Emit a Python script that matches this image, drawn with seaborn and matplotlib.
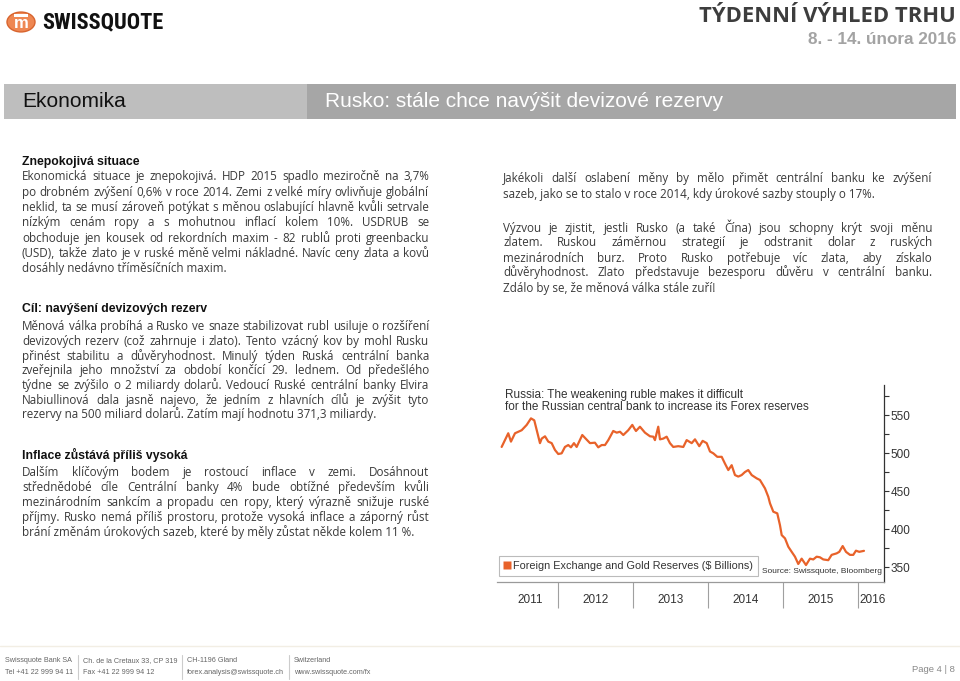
import matplotlib
matplotlib.use('Agg')
import matplotlib.pyplot as plt
import seaborn as sns
from matplotlib import font_manager
from matplotlib.font_manager import FontProperties
from matplotlib.backends.backend_agg import get_hinting_flag
from matplotlib.patches import Rectangle, Circle
from matplotlib.lines import Line2D
from matplotlib.ticker import MultipleLocator

# Foreign exchange and gold reserves ($ billions)
dates = [2011.249, 2011.337, 2011.373, 2011.427, 2011.516, 2011.583, 2011.640, 2011.684,
         2011.760, 2011.783, 2011.827, 2011.871, 2011.916, 2011.960, 2012.004, 2012.049,
         2012.093, 2012.137, 2012.173, 2012.213, 2012.249, 2012.324, 2012.369, 2012.427,
         2012.493, 2012.537, 2012.583, 2012.627, 2012.671, 2012.737, 2012.783, 2012.827,
         2012.871, 2012.937, 2012.991, 2013.017, 2013.040, 2013.093, 2013.160, 2013.227,
         2013.271, 2013.293, 2013.337, 2013.360, 2013.404, 2013.449, 2013.493, 2013.537,
         2013.604, 2013.671, 2013.716, 2013.783, 2013.827, 2013.884, 2013.929, 2013.983,
         2014.027, 2014.071, 2014.124, 2014.183, 2014.227, 2014.271, 2014.316, 2014.360,
         2014.404, 2014.449, 2014.493, 2014.537, 2014.583, 2014.649, 2014.693, 2014.760,
         2014.804, 2014.827, 2014.871, 2014.924, 2014.960, 2014.983, 2015.027, 2015.071,
         2015.116, 2015.160, 2015.204, 2015.249, 2015.307, 2015.360, 2015.404, 2015.449,
         2015.493, 2015.537, 2015.604, 2015.649, 2015.716, 2015.751, 2015.796, 2015.840,
         2015.893, 2015.937, 2015.973, 2016.017, 2016.080]
reserves = [508, 526, 515, 526, 530, 537, 545.6, 543,
            513, 519, 522, 515, 513, 504, 498.7, 499.6,
            508, 510.5, 507.5, 513, 508, 523.7, 519, 513,
            513.6, 507.5, 510.5, 510.5, 517, 529, 526.8, 528,
            523.7, 530, 537, 532.5, 529, 534.6, 526.8, 522,
            521.5, 517, 534.6, 518, 519, 521.5, 513, 508,
            509, 508, 517, 513, 518, 509, 516, 513,
            502, 499.6, 495, 495, 486, 477.6, 484, 471,
            469, 471, 475, 477.6, 471, 466.7, 464.5, 453.5,
            442.5, 433.8, 422.8, 420.6, 405, 392, 387.7, 376.7,
            370, 363.6, 354, 361, 352.6, 361, 360, 363.6,
            362.8, 360, 359, 366, 368, 370, 377.6, 370,
            366, 366, 371.5, 370, 371.3]
y_ticks = [350, 400, 450, 500, 550]
year_labels = ['2011', '2012', '2013', '2014', '2015', '2016']
year_label_pos = [2011.63, 2012.5, 2013.5, 2014.5, 2015.5, 2016.19]
year_breaks = [2012, 2013, 2014, 2015, 2016]

chart_title = ['Russia: The weakening ruble makes it difficult',
               'for the Russian central bank to increase its Forex reserves']
legend_label = 'Foreign Exchange and Gold Reserves ($ Billions)'
source_label = 'Source: Swissquote, Bloomberg'

# page text
head1 = 'Znepokojivá situace'
para1 = ['Ekonomická situace je znepokojivá. HDP 2015 spadlo meziročně na 3,7%',
         'po drobném zvýšení 0,6% v roce 2014. Zemi z velké míry ovlivňuje globální',
         'neklid, ta se musí zároveň potýkat s měnou oslabující hlavně kvůli setrvale',
         'nízkým cenám ropy a s mohutnou inflací kolem 10%. USDRUB se',
         'obchoduje jen kousek od rekordních maxim - 82 rublů proti greenbacku',
         '(USD), takže zlato je v ruské měně velmi nákladné. Navíc ceny zlata a kovů',
         'dosáhly nedávno tříměsíčních maxim.']
head2 = 'Cíl: navýšení devizových rezerv'
para2 = ['Měnová válka probíhá a Rusko ve snaze stabilizovat rubl usiluje o rozšíření',
         'devizových rezerv (což zahrnuje i zlato). Tento vzácný kov by mohl Rusku',
         'přinést stabilitu a důvěryhodnost. Minulý týden Ruská centrální banka',
         'zveřejnila jeho množství za období končící 29. lednem. Od předešlého',
         'týdne se zvýšilo o 2 miliardy dolarů. Vedoucí Ruské centrální banky Elvira',
         'Nabiullinová dala jasně najevo, že jedním z hlavních cílů je zvýšit tyto',
         'rezervy na 500 miliard dolarů. Zatím mají hodnotu 371,3 miliardy.']
head3 = 'Inflace zůstává příliš vysoká'
para3 = ['Dalším klíčovým bodem je rostoucí inflace v zemi. Dosáhnout',
         'střednědobé cíle Centrální banky 4% bude obtížné především kvůli',
         'mezinárodním sankcím a propadu cen ropy, který výrazně snižuje ruské',
         'příjmy.  Rusko nemá příliš prostoru, protože vysoká inflace a záporný růst',
         'brání změnám úrokových sazeb, které by měly zůstat někde kolem 11 %.']
para4 = ['Jakékoli další oslabení měny by mělo přimět centrální banku ke zvýšení',
         'sazeb, jako se to stalo v roce 2014, kdy úrokové sazby stouply o 17%.']
para5 = ['Výzvou je zjistit, jestli Rusko (a také Čína) jsou schopny krýt svoji měnu',
         'zlatem. Ruskou záměrnou strategií je odstranit dolar z ruských',
         'mezinárodních burz. Proto Rusko potřebuje víc zlata, aby získalo',
         'důvěryhodnost. Zlato představuje bezesporu důvěru v centrální banku.',
         'Zdálo by se, že měnová válka stále zuří!']
footer_cols = [('Swissquote Bank SA', 'Tel +41 22 999 94 11'),
               ('Ch. de la Cretaux 33, CP 319', 'Fax +41 22 999 94 12'),
               ('CH-1196 Gland', 'forex.analysis@swissquote.ch'),
               ('Switzerland', 'www.swissquote.com/fx')]

sns.set_theme(style='white')
plt.rcParams['font.family'] = ['Open Sans', 'DejaVu Sans']

installed = {f.name for f in font_manager.fontManager.ttflist}
narrow = next((n for n in ['Liberation Sans Narrow', 'Roboto Condensed', 'DejaVu Sans Condensed',
                           'Open Sans Condensed'] if n in installed), None)

W, H = 960, 681
fig = plt.figure(figsize=(9.6, 6.81), dpi=100)
fig.patch.set_facecolor('white')
renderer = fig.canvas.get_renderer()


def fx(x):
    return x / W


def fy(y):
    return 1 - y / H


ORANGE = '#E8622A'
ARIAL = ['Liberation Sans', 'DejaVu Sans']
BODY = dict(fontsize=8.4, color='#3a3a3a', family='Open Sans')
HEAD = dict(fontsize=8.8, color='#111111', fontweight='bold', family=ARIAL)
BASE = 3.5  # line centre -> baseline, px
body_prop = FontProperties(family=BODY['family'], size=BODY['fontsize'])


def row_fix(word):
    # Agg snaps each text bitmap to whole pixels from its own descent;
    # shift the anchor so every word of a line lands on the same pixel row
    try:
        font = renderer._prepare_font(body_prop)
        font.set_text(word, 0, flags=get_hinting_flag())
        h26 = font.get_width_height()[1]
        d26 = font.get_descent()
        return (h26 // 64 - (h26 - d26) // 64) - d26 / 64
    except Exception:
        return 0.0


def put_word(x, row, word):
    yy = row + row_fix(word)
    return fig.text(fx(x), fy(yy), word, va='baseline', **BODY)


def put_line(x0, x1, y, line, justify):
    row = round(y + BASE)
    if not justify:
        put_word(x0, row, line)
        return
    words = line.split()
    arts = [put_word(0, row, w) for w in words]
    widths = [a.get_window_extent(renderer).width for a in arts]
    gap = max((x1 - x0 - sum(widths)) / (len(words) - 1), 2)
    x = x0
    for a, w in zip(arts, widths):
        a.set_x(fx(x))
        x += w + gap


def put_para(x0, x1, y0, step, lines):
    for i, line in enumerate(lines):
        put_line(x0, x1, y0 + i * step, line, i < len(lines) - 1)


# logo and page title
fig.patches.append(Circle((fx(21), fy(22)), 14 / W, transform=fig.transFigure,
                          facecolor='#EE8752', edgecolor='#D8642E', lw=1))
fig.patches.append(Rectangle((fx(14), fy(16.5)), 14 / W, 2 / H, transform=fig.transFigure,
                             facecolor='white', edgecolor='none'))
fig.text(fx(21), fy(24), 'm', ha='center', va='center', fontsize=12, fontweight='bold',
         color='white', family=ARIAL)
if narrow:
    fig.text(fx(42), fy(22.5), 'SWISSQUOTE', ha='left', va='center', fontsize=16,
             fontweight='bold', color='#111111', family=[narrow, 'Liberation Sans'])
else:
    fig.text(fx(42), fy(22.5), 'SWISSQUOTE', ha='left', va='center', fontsize=13,
             fontweight='bold', color='#111111', family=ARIAL)
fig.text(fx(956), fy(16), 'TÝDENNÍ VÝHLED TRHU', ha='right', va='center', fontsize=15.8,
         fontweight='bold', color='#3D3D3D', family=['Open Sans', 'DejaVu Sans'])
fig.text(fx(956), fy(39), '8. - 14. února 2016', ha='right', va='center', fontsize=12.3,
         fontweight='bold', color='#A3A3A3', family=ARIAL)

# section bar
fig.patches.append(Rectangle((fx(4), fy(119)), 303 / W, 35 / H, transform=fig.transFigure,
                             facecolor='#BEBEBE', edgecolor='none'))
fig.patches.append(Rectangle((fx(307), fy(119)), 649 / W, 35 / H, transform=fig.transFigure,
                             facecolor='#A6A6A6', edgecolor='none'))
fig.text(fx(22), fy(101.5), 'Ekonomika', va='center', fontsize=15, color='#111111', family=ARIAL)
fig.text(fx(325), fy(101.5), 'Rusko: stále chce navýšit devizové rezervy', va='center',
         fontsize=15, color='white', family=ARIAL)

# left column
fig.text(fx(22), fy(162), head1, va='center', **HEAD)
put_para(22, 429, 177, 15.3, para1)
fig.text(fx(22), fy(309), head2, va='center', **HEAD)
put_para(22, 429, 327, 14.6, para2)
fig.text(fx(22), fy(455), head3, va='center', **HEAD)
put_para(22, 429, 472, 15.2, para3)

# right column
put_para(503, 932, 179, 15.3, para4)
put_para(503, 932, 228, 15.0, para5)

# chart
ax = fig.add_axes([fx(497), fy(582), 387 / W, 197 / H])
sns.lineplot(x=dates, y=reserves, ax=ax, color=ORANGE, linewidth=1.6)
ax.set_xlim(2011.187, 2016.347)
ax.set_ylim(330.3, 589.5)
ax.set_facecolor('white')
for side in ['left', 'top']:
    ax.spines[side].set_visible(False)
ax.spines['right'].set_color('#333333')
ax.spines['right'].set_linewidth(0.9)
ax.spines['bottom'].set_color('#9a9a9a')
ax.spines['bottom'].set_linewidth(0.9)
ax.yaxis.tick_right()
ax.set_yticks(y_ticks)
ax.yaxis.set_minor_locator(MultipleLocator(25))
ax.tick_params(axis='y', which='both', direction='out', length=3.5, width=0.8, color='#333333',
               labelsize=8.5, labelcolor='#333333', pad=1, right=True, left=False)
for lbl in ax.get_yticklabels():
    lbl.set_family(ARIAL)
ax.set_xticks([])
ax.set_xlabel('')
ax.set_ylabel('')
ax.grid(False)

ax.vlines(year_breaks, -0.13, 0, transform=ax.get_xaxis_transform(), clip_on=False,
          color='#a0a0a0', lw=0.8)
for lbl, pos in zip(year_labels, year_label_pos):
    ax.text(pos, -0.09, lbl, transform=ax.get_xaxis_transform(), ha='center', va='center',
            fontsize=8.5, color='#333333', family=ARIAL)

for i, line in enumerate(chart_title):
    fig.text(fx(505), fy(395 + i * 12.5), line, va='center', fontsize=8.5, color='#333333',
             family=ARIAL)

handle = Line2D([], [], marker='s', color='none', markerfacecolor=ORANGE,
                markeredgecolor='none', markersize=6, label=legend_label)
leg = ax.legend(handles=[handle], loc='lower left', bbox_to_anchor=(0.006, 0.03),
                frameon=True, fancybox=False, handlelength=0.5, handletextpad=0.3,
                borderpad=0.45, borderaxespad=0, prop={'family': ARIAL, 'size': 7.8})
leg.get_frame().set_edgecolor('#AAAAAA')
leg.get_frame().set_linewidth(0.8)
leg.get_texts()[0].set_color('#333333')
ax.text(0.995, 0.035, source_label, transform=ax.transAxes, ha='right', va='bottom',
        fontsize=6, color='#333333', family=ARIAL)

# footer
fig.add_artist(Line2D([0, 1], [fy(646), fy(646)], transform=fig.transFigure,
                      color='#F2EEE4', lw=1))
col_x = [5, 83, 187, 294]
for x, (a, b) in zip(col_x, footer_cols):
    fig.text(fx(x), fy(661), a, va='center', fontsize=5.2, color='#666666', family=ARIAL)
    fig.text(fx(x), fy(672), b, va='center', fontsize=5.2, color='#666666', family=ARIAL)
for x in [78, 182, 289]:
    fig.add_artist(Line2D([fx(x), fx(x)], [fy(655), fy(679)], transform=fig.transFigure,
                          color='#CCCCCC', lw=0.8))
fig.text(fx(955), fy(670), 'Page 4 | 8', ha='right', va='center', fontsize=6.8, color='#888888',
         family=ARIAL)

fig.savefig('out.png', dpi=100, facecolor='white')
